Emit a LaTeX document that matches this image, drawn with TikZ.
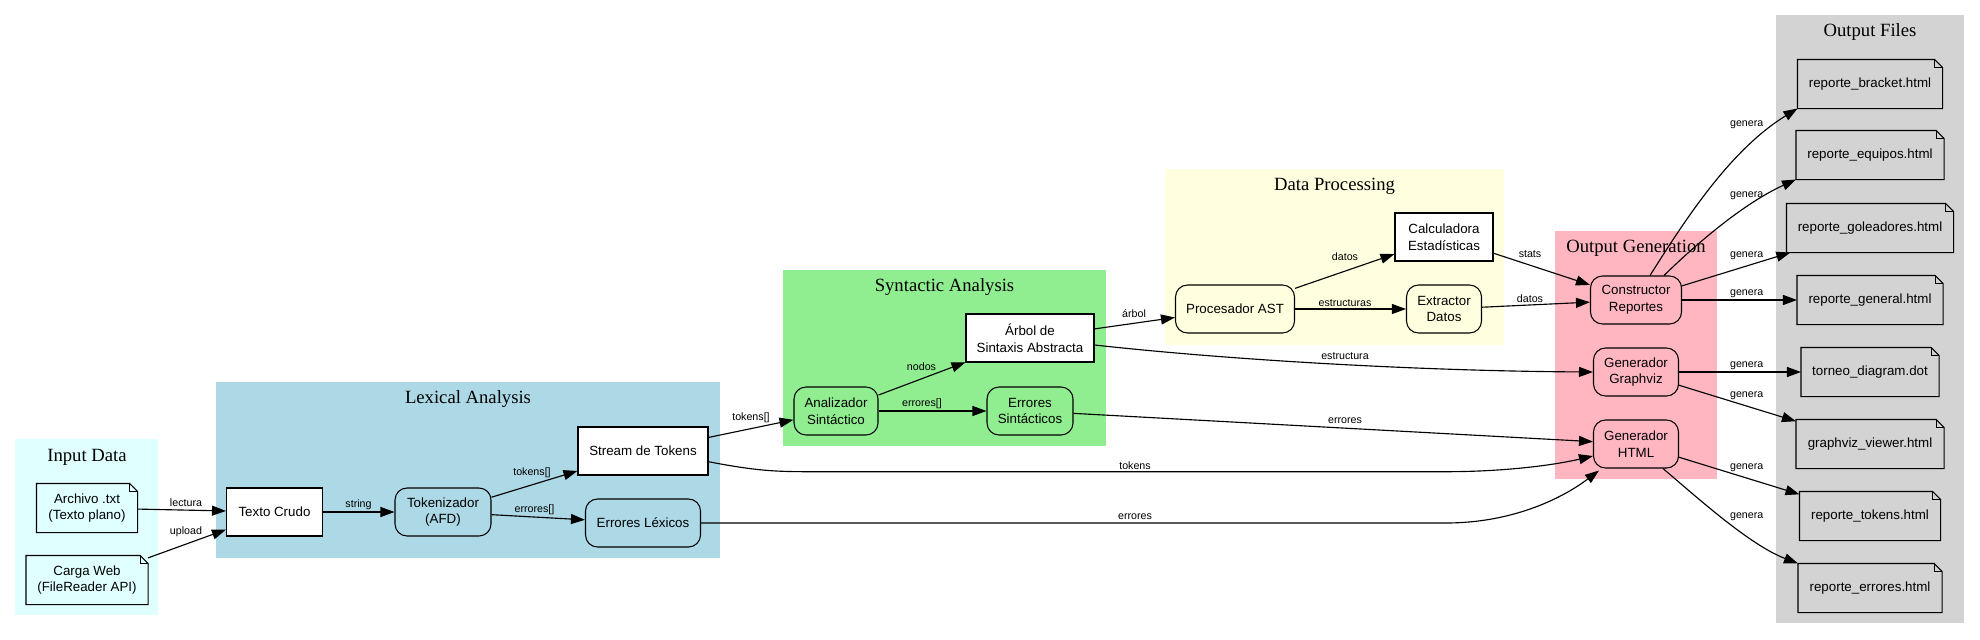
\documentclass[tikz,border=0pt]{standalone}
\usepackage{fontspec}
\setmainfont{Liberation Serif}
\setsansfont{Liberation Sans}
\usetikzlibrary{arrows.meta,calc}
\newlength\pxu \setlength\pxu{0.75pt}
\pgfdeclarelayer{clusterlayer}
\pgfdeclarelayer{notelayer}
\pgfsetlayers{clusterlayer,notelayer,main}
\definecolor{lcyan}{HTML}{E0FFFF}
\definecolor{lblue}{HTML}{ADD8E6}
\definecolor{lgreen}{HTML}{90EE90}
\definecolor{lyellow}{HTML}{FFFFE0}
\definecolor{lpink}{HTML}{FFB6C1}
\definecolor{lgrey}{HTML}{D3D3D3}
\tikzset{
  base/.style={font=\sffamily\fontsize{10}{12.5}\selectfont, align=center, minimum height=48\pxu, inner sep=0pt, line width=0.8pt},
  sq/.style={base, draw, rectangle, fill=white},
  rnd/.style={base, draw, rectangle, rounded corners=12\pxu},
  notenode/.style={base},
  lbl/.style={font=\sffamily\fontsize{8}{9}\selectfont, inner sep=0pt},
  ctitle/.style={font=\rmfamily\fontsize{14}{16}\selectfont, inner sep=0pt},
  edge/.style={-{Triangle[length=10.5pt,width=7.5pt]}, line width=0.85pt}
}
\newcommand\notedraw[2]{%
  \begin{pgfonlayer}{notelayer}
  \filldraw[fill=#2, line width=0.8pt] (#1.south west) -- (#1.north west) -- ([xshift=-8\pxu]#1.north east) -- ([yshift=-8\pxu]#1.north east) -- (#1.south east) -- cycle;
  \draw[line width=0.4pt] ([xshift=-8\pxu]#1.north east) |- ([yshift=-8\pxu]#1.north east);
  \end{pgfonlayer}}
\begin{document}
\begin{tikzpicture}[x=0.75pt, y=-0.75pt]
\useasboundingbox (0,0) rectangle (1980,639);
% clusters
\begin{pgfonlayer}{clusterlayer}
\fill[lcyan] (15,439) rectangle (158,615);
\fill[lblue] (216,382) rectangle (720,558);
\fill[lgreen] (783,270) rectangle (1106,446);
\fill[lyellow] (1165,169) rectangle (1504,345);
\fill[lpink] (1555,231) rectangle (1717,479);
\fill[lgrey] (1776,15) rectangle (1964,623);
\end{pgfonlayer}
\node[ctitle] (tin) at (87,457) {Input Data};
\node[ctitle] (tlex) at (468,399) {Lexical Analysis};
\node[ctitle] (tsyn) at (944.5,287) {Syntactic Analysis};
\node[ctitle] (tdat) at (1334.5,186) {Data Processing};
\node[ctitle] (tgen) at (1636,248) {Output Generation};
\node[ctitle] (tfil) at (1870,32) {Output Files};
% nodes
\node[notenode, minimum width=100\pxu] (archivo) at (87,508) {Archivo .txt\\(Texto plano)};
\notedraw{archivo}{lcyan}
\node[notenode, minimum width=121\pxu] (carga) at (87,580) {Carga Web\\(FileReader API)};
\notedraw{carga}{lcyan}
\node[sq, minimum width=96\pxu] (texto) at (274.5,512) {Texto Crudo};
\node[rnd, fill=lblue, minimum width=96\pxu] (tokz) at (443,512) {Tokenizador\\(AFD)};
\node[sq, minimum width=130\pxu] (stream) at (643,451) {Stream de Tokens};
\node[rnd, fill=lblue, minimum width=115\pxu] (errlex) at (643,523) {Errores Léxicos};
\node[rnd, fill=lgreen, minimum width=84\pxu] (anal) at (836,411) {Analizador\\Sintáctico};
\node[sq, minimum width=128\pxu] (arbol) at (1030,338) {Árbol de\\Sintaxis Abstracta};
\node[rnd, fill=lgreen, minimum width=86\pxu] (errsin) at (1030,411) {Errores\\Sintácticos};
\node[rnd, fill=lyellow, minimum width=119\pxu] (proc) at (1235,309) {Procesador AST};
\node[sq, minimum width=98\pxu] (calc) at (1444,237) {Calculadora\\Estadísticas};
\node[rnd, fill=lyellow, minimum width=75\pxu] (extr) at (1444,309) {Extractor\\Datos};
\node[rnd, fill=lpink, minimum width=91\pxu] (constr) at (1636,300) {Constructor\\Reportes};
\node[rnd, fill=lpink, minimum width=85\pxu] (gviz) at (1636,372) {Generador\\Graphviz};
\node[rnd, fill=lpink, minimum width=85\pxu] (ghtml) at (1636,444) {Generador\\HTML};
\node[notenode, minimum width=144\pxu] (bracket) at (1870,84) {reporte\_bracket.html};
\notedraw{bracket}{lgrey}
\node[notenode, minimum width=147\pxu] (equipos) at (1870,155) {reporte\_equipos.html};
\notedraw{equipos}{lgrey}
\node[notenode, minimum width=166\pxu] (golead) at (1870,228) {reporte\_goleadores.html};
\notedraw{golead}{lgrey}
\node[notenode, minimum width=145\pxu] (general) at (1870,300) {reporte\_general.html};
\notedraw{general}{lgrey}
\node[notenode, minimum width=137\pxu] (torneo) at (1870,372) {torneo\_diagram.dot};
\notedraw{torneo}{lgrey}
\node[notenode, minimum width=147\pxu] (viewer) at (1870,444) {graphviz\_viewer.html};
\notedraw{viewer}{lgrey}
\node[notenode, minimum width=140\pxu] (tokfile) at (1870,516) {reporte\_tokens.html};
\notedraw{tokfile}{lgrey}
\node[notenode, minimum width=143\pxu] (errfile) at (1870,588) {reporte\_errores.html};
\notedraw{errfile}{lgrey}
% edges
\draw[edge] (archivo) -- (texto);
\draw[edge] (carga) -- (texto);
\draw[edge] (texto) -- (tokz);
\draw[edge] (tokz) -- (stream);
\draw[edge] (tokz) -- (errlex);
\draw[edge] (stream) -- (anal);
\draw[edge] ([yshift=-10.7\pxu]stream.east) .. controls (760,471.7) and (780,471.7) .. (815,471.7) -- (1446,471.7) .. controls (1500,471.7) and (1550,466) .. ([yshift=-12\pxu]ghtml.west);
\draw[edge] (errlex.east) -- (1446,523) .. controls (1510,523) and (1560,500) .. ($(ghtml.south west)+(6,2)$);
\draw[edge] (anal) -- (arbol);
\draw[edge] (anal) -- (errsin);
\draw[edge] (arbol) -- (proc);
\draw[edge] ([yshift=-7\pxu]arbol.east) .. controls (1230,360) and (1420,371) .. (gviz.west);
\draw[edge] (errsin) -- (ghtml);
\draw[edge] (proc) -- (calc);
\draw[edge] (proc) -- (extr);
\draw[edge] (calc) -- (constr);
\draw[edge] (extr) -- (constr);
\draw[edge] ($(constr.north)+(14,0)$) .. controls (1685,220) and (1730,150) .. (bracket.south west);
\draw[edge] ($(constr.north)+(28,0)$) .. controls (1690,250) and (1740,205) .. (equipos.south west);
\draw[edge] (constr) -- (golead);
\draw[edge] (constr) -- (general);
\draw[edge] (gviz) -- (torneo);
\draw[edge] (gviz) -- (viewer);
\draw[edge] (ghtml) -- (tokfile);
\draw[edge] ($(ghtml.south)+(27,0)$) .. controls (1700,500) and (1750,545) .. (errfile.north west);
% labels
\node[lbl] (l1) at (186,503) {lectura};
\node[lbl] (l2) at (186,532) {upload};
\node[lbl] (l3) at (358.5,505) {string};
\node[lbl] (l4) at (532,473) {tokens[]};
\node[lbl] (l5) at (534.5,509.3) {errores[]};
\node[lbl] (l6) at (751,418) {tokens[]};
\node[lbl] (l7) at (1135,465.7) {tokens};
\node[lbl] (l8) at (1135,516.7) {errores};
\node[lbl] (l9) at (921.5,366.7) {nodos};
\node[lbl] (l10) at (922,404) {errores[]};
\node[lbl] (l11) at (1134,314) {árbol};
\node[lbl] (l12) at (1345,355.7) {estructura};
\node[lbl] (l13) at (1345,420.7) {errores};
\node[lbl] (l14) at (1345,256.7) {datos};
\node[lbl] (l15) at (1345,302.7) {estructuras};
\node[lbl] (l16) at (1530,254.3) {stats};
\node[lbl] (l17) at (1530,298.3) {datos};
\node[lbl] (g1) at (1746.7,124.3) {genera};
\node[lbl] (g2) at (1746.7,195.6) {genera};
\node[lbl] (g3) at (1746.7,255.5) {genera};
\node[lbl] (g4) at (1746.7,293.4) {genera};
\node[lbl] (g5) at (1746.7,365.5) {genera};
\node[lbl] (g6) at (1746.7,395.3) {genera};
\node[lbl] (g7) at (1746.7,467.4) {genera};
\node[lbl] (g8) at (1746.7,516.3) {genera};
\end{tikzpicture}
\end{document}
